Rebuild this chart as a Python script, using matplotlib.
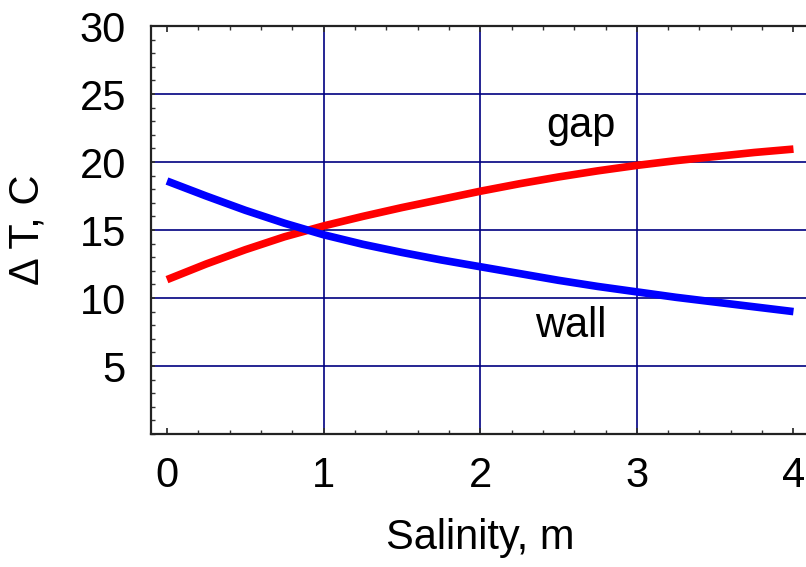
import matplotlib
matplotlib.use("Agg")
import matplotlib.pyplot as plt
from matplotlib.ticker import MultipleLocator

plt.rcParams['font.family'] = ['Liberation Sans', 'DejaVu Sans']

salinity = [0, 0.25, 0.5, 0.75, 1.0, 1.25, 1.5, 1.75, 2.0,
            2.25, 2.5, 2.75, 3.0, 3.25, 3.5, 3.75, 4.0]
gap = [11.35, 12.5, 13.55, 14.5, 15.3, 16.0, 16.65, 17.25, 17.85,
       18.4, 18.9, 19.35, 19.75, 20.1, 20.4, 20.7, 20.95]
wall = [18.6, 17.5, 16.45, 15.5, 14.65, 13.95, 13.35, 12.8, 12.3,
        11.8, 11.3, 10.85, 10.45, 10.05, 9.7, 9.35, 9.0]

fig = plt.figure(figsize=(8.06, 5.67), dpi=100)
ax = fig.add_axes([151/806, 1 - 434/567, 1 - 151/806, (434 - 26)/567])

grid_c = '#000080'
for gx in [1, 2, 3]:
    ax.axvline(gx, color=grid_c, lw=1.2, zorder=1)
for gy in [5, 10, 15, 20, 25]:
    ax.axhline(gy, color=grid_c, lw=1.2, zorder=1)

ax.plot(salinity, gap, color='#ff0000', lw=5.5, solid_capstyle='butt',
        solid_joinstyle='round', zorder=3)
ax.plot(salinity, wall, color='#0000ff', lw=5.5, solid_capstyle='butt',
        solid_joinstyle='round', zorder=3)

ax.text(2.64, 21.86, 'gap', fontsize=30, ha='center', va='baseline')
ax.text(2.575, 7.15, 'wall', fontsize=30, ha='center', va='baseline')

ax.set_xlim(-0.102, 4.08)
ax.set_ylim(0, 30)
ax.xaxis.set_major_locator(MultipleLocator(1))
ax.xaxis.set_minor_locator(MultipleLocator(0.2))
ax.yaxis.set_minor_locator(MultipleLocator(1))
ax.set_yticks([5, 10, 15, 20, 25, 30])

ax.tick_params(axis='both', which='both', direction='in', top=True, right=False,
               colors='#333333', labelcolor='black')
ax.tick_params(axis='both', which='major', width=1.3, labelsize=30)
ax.tick_params(axis='both', which='minor', length=3.0, width=1.0)
ax.tick_params(axis='x', which='major', length=4.5, pad=16)
ax.tick_params(axis='y', which='major', length=3.0, pad=18)

for s in ['left', 'bottom', 'top']:
    ax.spines[s].set_linewidth(1.6)
    ax.spines[s].set_color('#222222')
ax.spines['right'].set_visible(False)

ax.set_xlabel('Salinity, m', fontsize=30)
ax.xaxis.set_label_coords((480 - 151) / 655, (434 - 549) / 408)
ax.xaxis.label.set_va('baseline')
ax.set_ylabel('\u0394 T, C', fontsize=30)
ax.yaxis.set_label_coords((28 - 151) / 655, (434 - 230) / 408)
ax.yaxis.label.set_va('center')

fig.savefig('out.png', dpi=100)
